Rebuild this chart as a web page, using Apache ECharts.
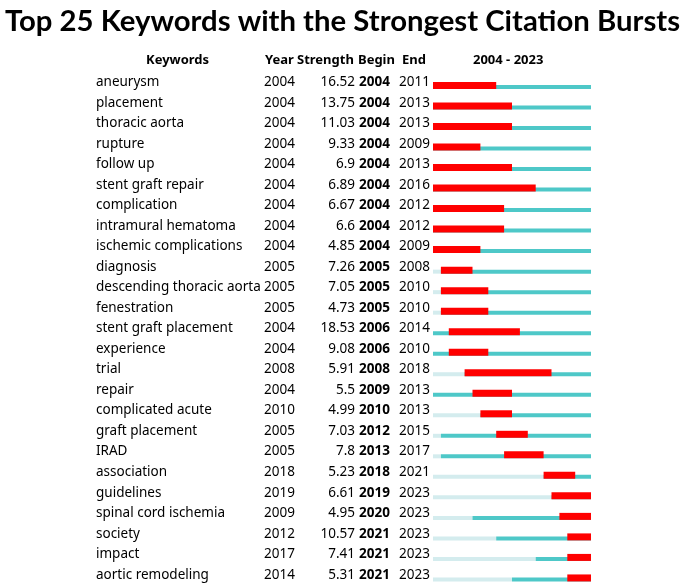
<!DOCTYPE html>
<html><head><meta charset="utf-8">
<script src="https://cdn.jsdelivr.net/npm/echarts@6/dist/echarts.min.js"></script>
<style>html,body{margin:0;padding:0;background:#fff}#c{width:685px;height:586px}</style>
</head><body><div id="c"></div>
<script>
const keywords = ["aneurysm","placement","thoracic aorta","rupture","follow up","stent graft repair","complication","intramural hematoma","ischemic complications","diagnosis","descending thoracic aorta","fenestration","stent graft placement","experience","trial","repair","complicated acute","graft placement","IRAD","association","guidelines","spinal cord ischemia","society","impact","aortic remodeling"];
const years = [2004,2004,2004,2004,2004,2004,2004,2004,2004,2005,2005,2005,2004,2004,2008,2004,2010,2005,2005,2018,2019,2009,2012,2017,2014];
const strengths = ["16.52","13.75","11.03","9.33","6.9","6.89","6.67","6.6","4.85","7.26","7.05","4.73","18.53","9.08","5.91","5.5","4.99","7.03","7.8","5.23","6.61","4.95","10.57","7.41","5.31"];
const begins = [2004,2004,2004,2004,2004,2004,2004,2004,2004,2005,2005,2005,2006,2006,2008,2009,2010,2012,2013,2018,2019,2020,2021,2021,2021];
const ends = [2011,2013,2013,2009,2013,2016,2012,2012,2009,2008,2010,2010,2014,2010,2018,2013,2013,2015,2017,2021,2023,2023,2023,2023,2023];
const yearStart = 2004, yearEnd = 2023;
const headers = ["Keywords","Year","Strength","Begin","End", yearStart + " - " + yearEnd];

const FONT = "'Noto Sans', 'Open Sans', sans-serif";
const TFONT = "Lato, 'Noto Sans', sans-serif";
const data = keywords.map((k,i)=>[i, years[i], begins[i], ends[i], strengths[i]]);

const chart = echarts.init(document.getElementById('c'));
chart.setOption({
  animation:false,
  title:{text:"Top 25 Keywords with the Strongest Citation Bursts", left:'center', top:2,
    textStyle:{fontFamily:TFONT, fontWeight:'bold', fontSize:29.3, color:'#000'}},
  grid:{left:433, right:94, top:71.2, bottom:1.8},
  xAxis:{type:'value', min:yearStart, max:yearEnd+1, show:false},
  yAxis:{type:'category', data:keywords, inverse:true, show:false},
  graphic:[
    {type:'text', left:146, top:54, style:{text:headers[0], font:"bold 13px "+FONT, fill:'#000'}},
    {type:'text', left:265, top:54, style:{text:headers[1], font:"bold 13px "+FONT, fill:'#000'}},
    {type:'text', left:297, top:54, style:{text:headers[2], font:"bold 13px "+FONT, fill:'#000'}},
    {type:'text', left:358, top:54, style:{text:headers[3], font:"bold 13px "+FONT, fill:'#000'}},
    {type:'text', left:402, top:54, style:{text:headers[4], font:"bold 13px "+FONT, fill:'#000'}},
    {type:'text', left:473, top:54, style:{text:headers[5], font:"bold 13px "+FONT, fill:'#000'}}
  ],
  series:[{
    type:'custom',
    data:data,
    clip:false,
    encode:{x:1, y:0},
    renderItem:function(params, api){
      const idx = api.value(0);
      const yr = api.value(1), b = api.value(2), e = api.value(3);
      const s = strengths[idx];
      const p0 = api.coord([yearStart, idx]);
      const pY = api.coord([yr, idx]);
      const pB = api.coord([b, idx]);
      const pE = api.coord([e+1, idx]);
      const p1 = api.coord([yearEnd+1, idx]);
      const cy = p0[1];
      const bottom = cy + 7.5;
      const children = [];
      if (pY[0] > p0[0]) children.push({type:'rect', shape:{x:p0[0], y:bottom-4, width:pY[0]-p0[0], height:4}, style:{fill:'#d4ecee'}});
      children.push({type:'rect', shape:{x:pY[0], y:bottom-4, width:p1[0]-pY[0], height:4}, style:{fill:'#4ec8c8'}});
      children.push({type:'rect', shape:{x:pB[0], y:bottom-7, width:pE[0]-pB[0], height:7}, style:{fill:'#ff0000'}});
      const tf = "13.5px "+FONT;
      const ty = cy + 0.8;
      children.push({type:'text', style:{text:keywords[idx], x:96, y:ty, font:tf, fill:'#000', textVerticalAlign:'middle'}});
      children.push({type:'text', style:{text:String(yr), x:264, y:ty, font:tf, fill:'#000', textVerticalAlign:'middle'}});
      children.push({type:'text', style:{text:s, x:355, y:ty, font:tf, fill:'#000', textAlign:'right', textVerticalAlign:'middle'}});
      children.push({type:'text', style:{text:String(b), x:359, y:ty, font:"bold "+tf, fill:'#000', textVerticalAlign:'middle'}});
      children.push({type:'text', style:{text:String(e), x:399, y:ty, font:tf, fill:'#000', textVerticalAlign:'middle'}});
      return {type:'group', children:children};
    }
  }]
});
</script></body></html>
